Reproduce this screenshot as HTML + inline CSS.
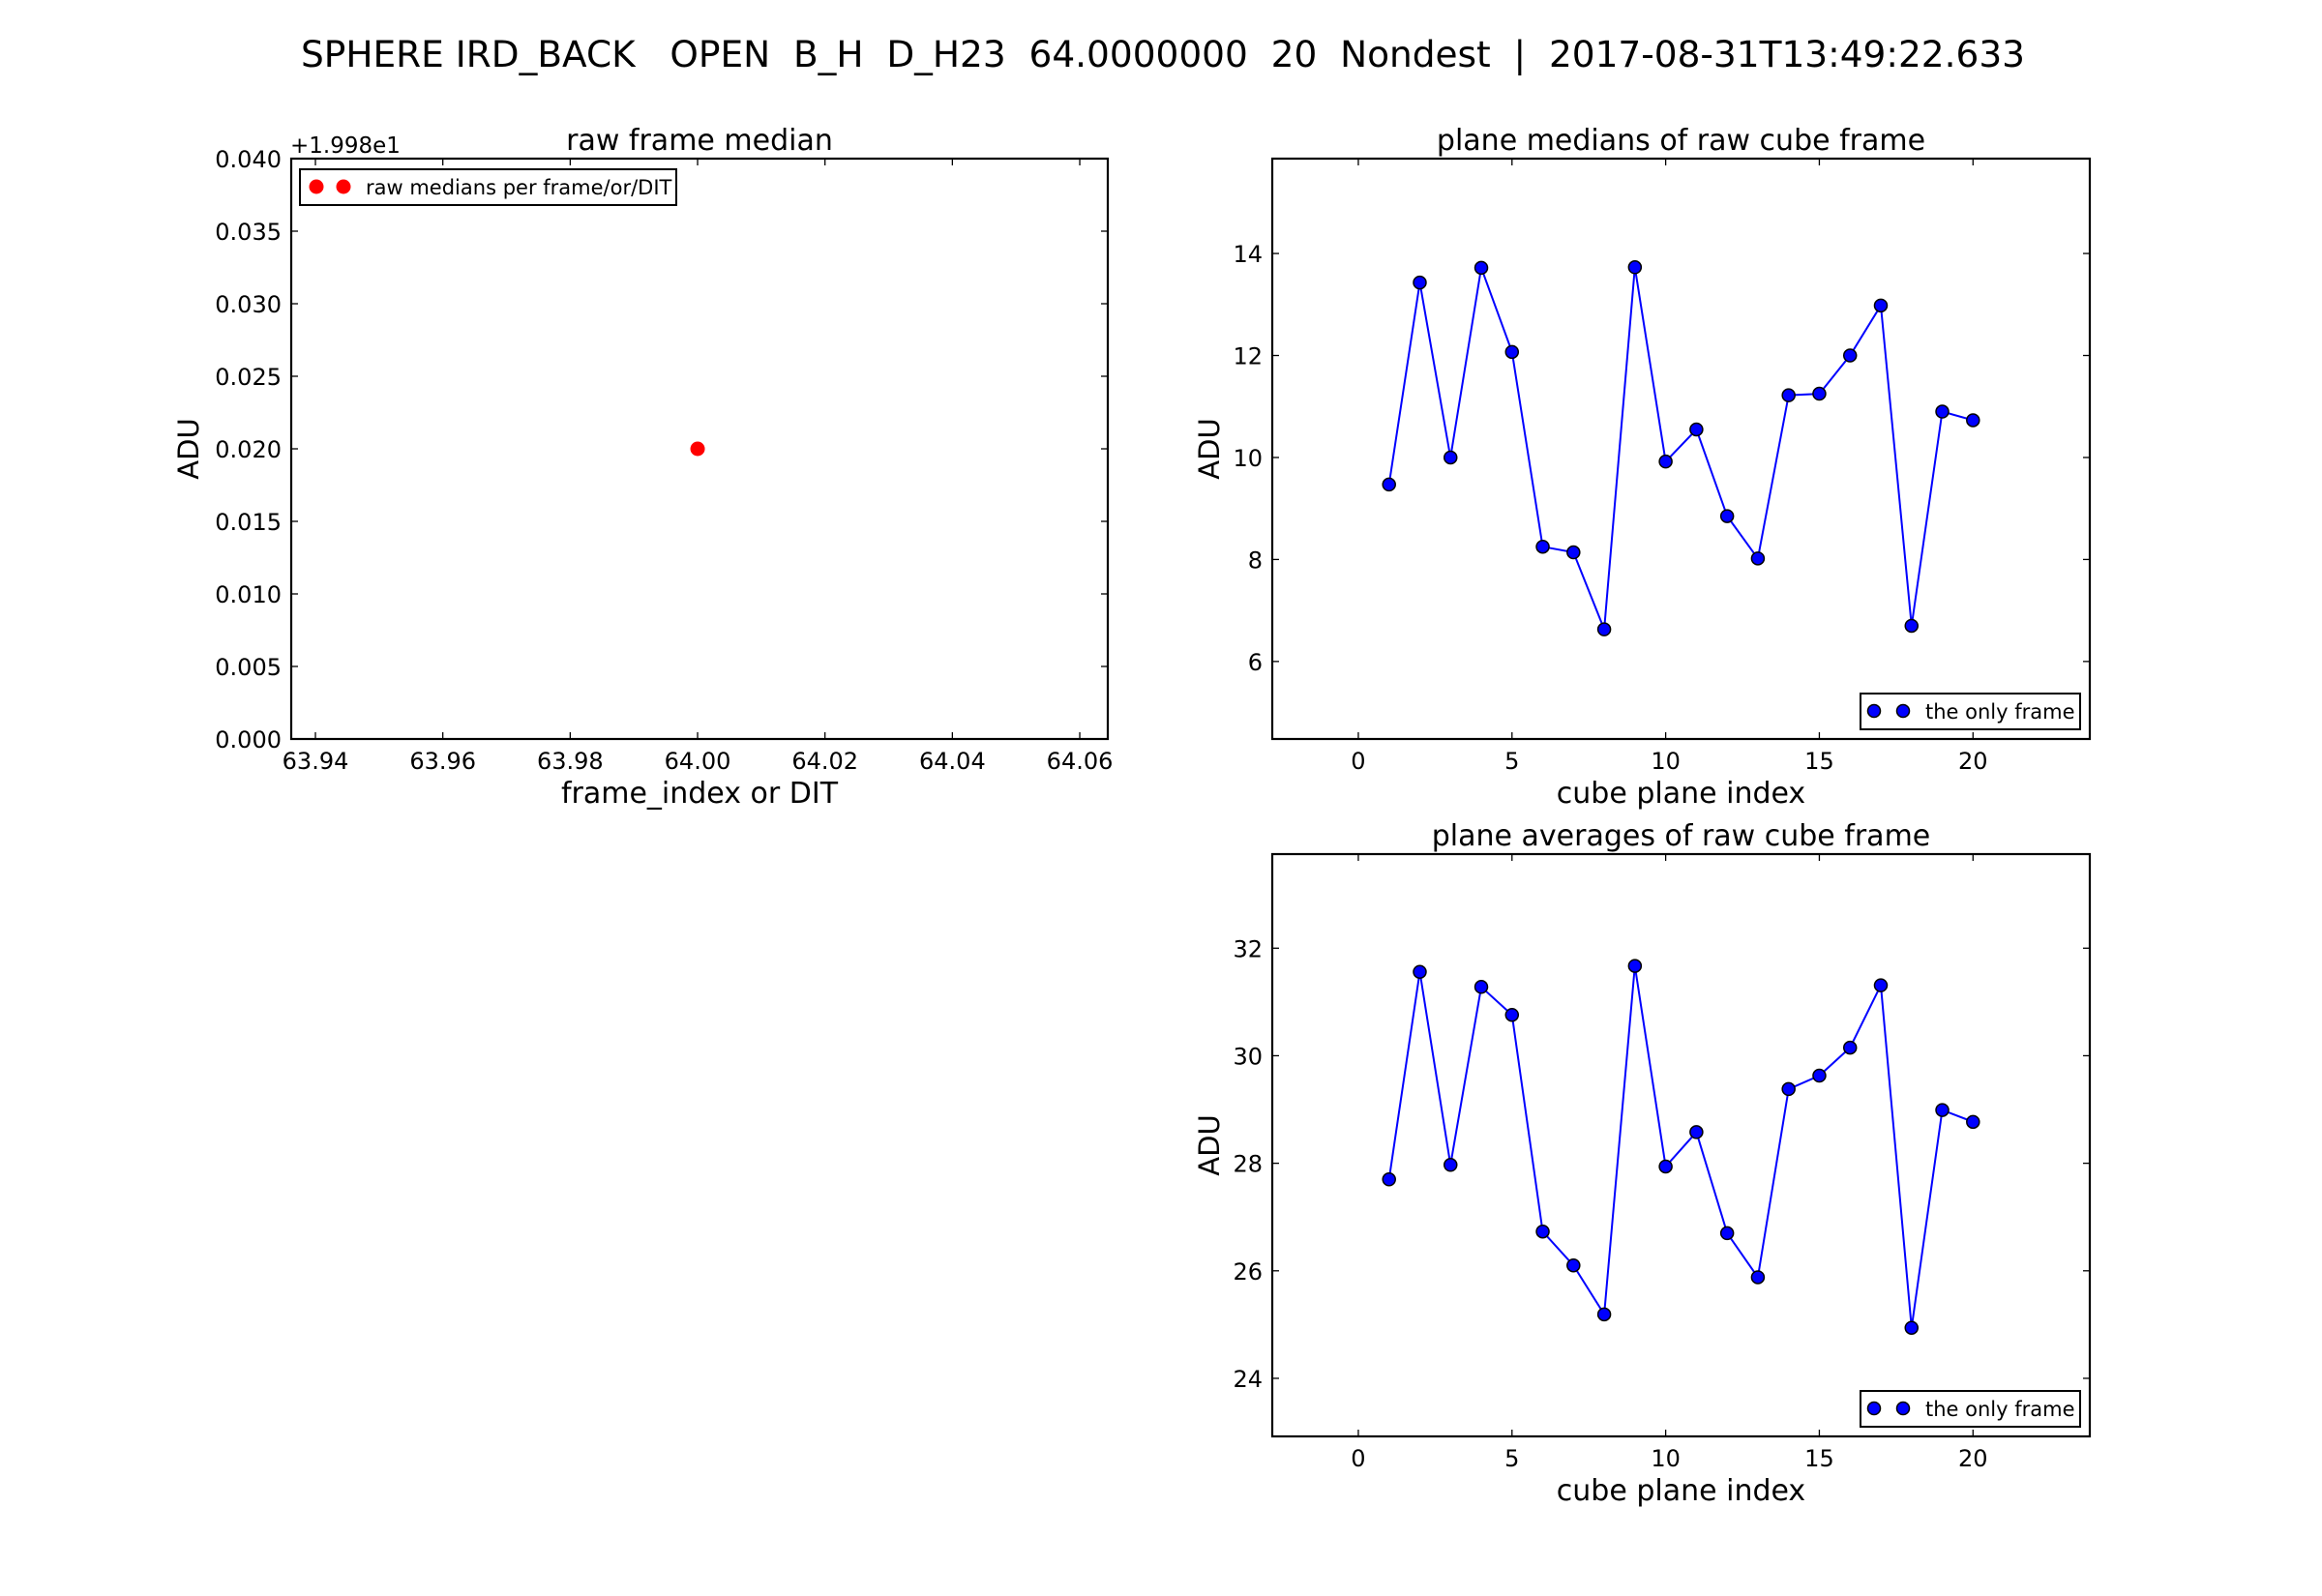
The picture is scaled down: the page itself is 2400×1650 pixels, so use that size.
<!DOCTYPE html>
<html><head><meta charset="utf-8"><style>
html,body{margin:0;padding:0;background:#fff;}
svg{display:block;font-family:"DejaVu Sans","Liberation Sans",sans-serif;}
</style></head><body>
<svg id="fig" width="2400" height="1650" viewBox="0 0 2400 1650" xmlns="http://www.w3.org/2000/svg">
<rect width="2400" height="1650" fill="#fff"/>
<text x="1202" y="69" font-size="37" text-anchor="middle" textLength="1782" lengthAdjust="spacingAndGlyphs" style="white-space:pre" xml:space="preserve">SPHERE IRD_BACK   OPEN  B_H  D_H23  64.0000000  20  Nondest  |  2017-08-31T13:49:22.633</text>
<g id="p1"></g>
<g id="p2"></g>
<g id="p3"></g>
</svg>
<script>
const rawX = [64.0];
const rawY = [0.02];
const planeIdx = [1,2,3,4,5,6,7,8,9,10,11,12,13,14,15,16,17,18,19,20];
const medianVals = [9.47,13.43,10.0,13.72,12.07,8.25,8.14,6.63,13.73,9.92,10.55,8.85,8.02,11.22,11.25,12.0,12.98,6.7,10.9,10.73];
const averageVals = [27.70,31.56,27.97,31.28,30.76,26.73,26.10,25.19,31.67,27.94,28.58,26.70,25.88,29.38,29.63,30.15,31.31,24.94,28.99,28.77];
const rawXTicks = [63.94,63.96,63.98,64.00,64.02,64.04,64.06];
const rawYTicks = [0,0.005,0.01,0.015,0.02,0.025,0.03,0.035,0.04];
const planeXTicks = [0,5,10,15,20];
const medYTicks = [6,8,10,12,14];
const avgYTicks = [24,26,28,30,32];

const NS = "http://www.w3.org/2000/svg";
function mk(parent, tag, attrs, text){
  const e = document.createElementNS(NS, tag);
  for (const k in attrs) e.setAttribute(k, attrs[k]);
  if (text !== undefined) e.textContent = text;
  parent.appendChild(e);
  return e;
}
function axes(g, box, xlim, ylim){
  const sx = v => box.x0 + (v - xlim[0]) / (xlim[1] - xlim[0]) * (box.x1 - box.x0);
  const sy = v => box.y1 - (v - ylim[0]) / (ylim[1] - ylim[0]) * (box.y1 - box.y0);
  return {sx, sy};
}
function frame(g, box, xt, yt, sx, sy, xfmt, yfmt, title, xlabel){
  for (const t of xt){
    const x = sx(t);
    let l = mk(g,'line',{x1:x,x2:x,y1:box.y1,y2:box.y1-7,stroke:'#000','stroke-width':1.3});
    
    
    l = mk(g,'line',{x1:x,x2:x,y1:box.y0,y2:box.y0+7,stroke:'#000','stroke-width':1.3});
    
    
    const tx = mk(g,'text',{x:x,y:box.y1+31,'font-size':24,'text-anchor':'middle'},xfmt(t));
    
    
  }
  for (const t of yt){
    const y = sy(t);
    let l = mk(g,'line',{x1:box.x0,x2:box.x0+7,y1:y,y2:y,stroke:'#000','stroke-width':1.3});
    
    
    l = mk(g,'line',{x1:box.x1,x2:box.x1-7,y1:y,y2:y,stroke:'#000','stroke-width':1.3});
    
    
    const ty = mk(g,'text',{x:box.x0-10,y:y+9,'font-size':24,'text-anchor':'end'},yfmt(t));
    
    
  }
  const r = mk(g,'rect',{x:box.x0,y:box.y0,width:box.x1-box.x0,height:box.y1-box.y0,fill:'none',stroke:'#000','stroke-width':2.2});
  
  
  const ti = mk(g,'text',{x:(box.x0+box.x1)/2,y:box.y0-9,'font-size':30,'text-anchor':'middle'},title);
  
  
  const xl = mk(g,'text',{x:(box.x0+box.x1)/2,y:box.y1+66,'font-size':30,'text-anchor':'middle'},xlabel);
  
  
  const cy = (box.y0+box.y1)/2;
  const yl = mk(g,'text',{x:0,y:0,'font-size':29,'text-anchor':'middle',transform:`translate(${box.x0 - (box.x0<400?96:55)},${cy}) rotate(-90)`},'ADU');
  
  
}

// Panel 1
(function(){
  const g = document.getElementById('p1');
  const box = {x0:301,x1:1145,y0:164,y1:764};
  const {sx, sy} = axes(g, box, [63.9362,64.0644], [0,0.04]);
  frame(g, box, rawXTicks, rawYTicks, sx, sy, t=>t.toFixed(2), t=>t.toFixed(3), 'raw frame median', 'frame_index or DIT');
  const off = mk(g,'text',{x:300,y:158,'font-size':23},'+1.998e1');
  
  
  for (let i=0;i<rawX.length;i++){
    const c = mk(g,'ellipse',{cx:sx(rawX[i]),cy:sy(rawY[i]),rx:7.5,ry:7.5,fill:'#f00'});
    
    
  }
  const lg = mk(g,'g',{});
  
  
  mk(lg,'rect',{x:310,y:175,width:389,height:37,fill:'#fff',stroke:'#000','stroke-width':2});
  mk(lg,'circle',{cx:327,cy:193,r:7.5,fill:'#f00'});
  mk(lg,'circle',{cx:355,cy:193,r:7.5,fill:'#f00'});
  const lt = mk(lg,'text',{x:378,y:201,'font-size':21},'raw medians per frame/or/DIT');
  
  
})();

function planePanel(id, box, ylim, vals, yt, title){
  const g = document.getElementById(id);
  const {sx, sy} = axes(g, box, [-2.8,23.8], ylim);
  frame(g, box, planeXTicks, yt, sx, sy, t=>String(t), t=>String(t), title, 'cube plane index');
  let d = '';
  for (let i=0;i<planeIdx.length;i++) d += (i?'L':'M') + sx(planeIdx[i]).toFixed(1) + ' ' + sy(vals[i]).toFixed(1);
  const p = mk(g,'path',{d:d,fill:'none',stroke:'#00f','stroke-width':2});
  
  
  for (let i=0;i<planeIdx.length;i++){
    const c = mk(g,'circle',{cx:sx(planeIdx[i]),cy:sy(vals[i]),r:6.5,fill:'#00f',stroke:'#000','stroke-width':1.5});
    
    
  }
  const lg = mk(g,'g',{});
  
  
  const ly = box.y1 - 47;
  mk(lg,'rect',{x:1923,y:ly,width:227,height:37,fill:'#fff',stroke:'#000','stroke-width':2});
  mk(lg,'circle',{cx:1937,cy:ly+18,r:6.5,fill:'#00f',stroke:'#000','stroke-width':1.5});
  mk(lg,'circle',{cx:1967,cy:ly+18,r:6.5,fill:'#00f',stroke:'#000','stroke-width':1.5});
  const lt = mk(lg,'text',{x:1990,y:ly+26,'font-size':21},'the only frame');
  
  
}
planePanel('p2', {x0:1315,x1:2160,y0:164,y1:764}, [4.48,15.86], medianVals, medYTicks, 'plane medians of raw cube frame');
planePanel('p3', {x0:1315,x1:2160,y0:883,y1:1485}, [22.92,33.75], averageVals, avgYTicks, 'plane averages of raw cube frame');
</script>
</body></html>
